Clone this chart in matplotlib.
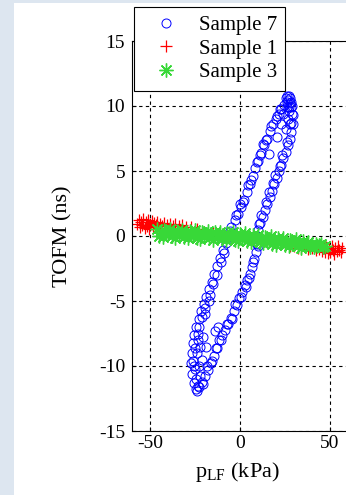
import matplotlib
matplotlib.use("Agg")
import matplotlib.pyplot as plt
from matplotlib.patches import Rectangle

# Sample 7: hysteresis loop (pressure kPa, TOFM ns)
s7_p = [
    -24.5, -25.5, -26.5, -27.0, -26.8, -26.2, -25.3, -24.2, -23.0, -21.6,
    -20.2, -18.7, -17.2, -15.6, -14.2, -12.6, -11.2, -9.6, -8.0, -6.4,
    -4.8, -3.0, -1.2, 0.6, 2.2, 3.8, 5.4, 7.0, 8.6, 10.2,
    11.8, 13.4, 15.0, 16.6, 18.2, 19.8, 21.4, 23.0, 24.6, 26.0,
    26.5, 27.5, 28.2, 27.0, 26.0, 28.8, 25.5, 27.8, 29.0, 27.2,
    26.0, 28.5, 27.0,
    29.3, 29.5, 28.6, 27.6, 26.5, 25.3, 24.0, 22.8, 21.6, 20.3,
    19.0, 17.7, 16.4, 15.1, 13.8, 12.5, 11.2, 10.2, 9.6, 9.2,
    8.9, 8.0, 6.8, 5.5, 4.0, 2.6, 1.2, -0.3, -1.8, -3.4,
    -5.0, -6.6, -8.2, -9.8, -11.4, -13.0, -14.6, -16.2, -17.8, -19.5,
    -21.2, -22.8, -24.0,
    -24.0, -23.0, -25.0, -22.0, -20.5, -18.7, -14.1, -12.5, -21.0, -23.5,
    -26.0, -19.5, -17.0, -22.8, -24.5, -23.5, -22.0,
    26.8, 28.0, 24.0, 22.5, 20.5, 25.5, 16.0,
    -25.8, -24.8, -23.6, -21.0, -19.2, -16.8, -14.8, -13.0, -10.8, -9.0,
    -5.6, -2.2, 0.0, 1.5, 4.6, 6.0, 9.4, 11.0, 12.8, 14.2,
    17.4, 20.6, 22.2,
    28.2, 26.0, 23.4, 22.0, 19.6, 18.2, 16.0, 14.4, 11.8, 10.5,
    9.8, 7.2, 4.8, 3.2, 0.3, -2.6, -4.3, -7.4, -10.6, -13.6,
    -15.4, -18.6, -20.6,
]
s7_t = [
    -11.8, -11.3, -10.6, -9.8, -9.0, -8.2, -7.6, -7.0, -6.4, -5.8,
    -5.2, -4.7, -4.1, -3.5, -2.9, -2.3, -1.7, -1.1, -0.5, 0.1,
    0.7, 1.2, 1.7, 2.2, 2.8, 3.4, 4.0, 4.6, 5.2, 5.8,
    6.4, 7.0, 7.5, 8.1, 8.6, 9.0, 9.4, 9.8, 10.1, 10.3,
    10.5, 10.2, 9.9, 9.6, 9.9, 9.4, 10.6, 10.6, 10.0, 10.8,
    10.8, 10.3, 9.9,
    9.3, 8.6, 8.0, 7.5, 7.0, 6.5, 6.0, 5.5, 5.0, 4.5,
    4.0, 3.5, 3.0, 2.5, 2.0, 1.5, 1.0, 0.5, 0.0, -0.6,
    -1.2, -1.8, -2.4, -2.9, -3.4, -3.8, -4.3, -4.8, -5.3, -5.8,
    -6.3, -6.8, -7.2, -7.6, -8.0, -8.6, -9.2, -9.8, -10.3, -10.8,
    -11.2, -11.6, -11.9,
    -9.0, -10.0, -10.2, -8.5, -7.8, -8.5, -7.3, -7.0, -9.5, -8.0,
    -9.6, -6.0, -5.0, -7.0, -11.0, -11.5, -10.8,
    9.0, 8.6, 9.4, 8.6, 7.6, 8.2, 6.3,
    -10.0, -8.6, -7.5, -6.2, -5.5, -4.5, -3.7, -3.0, -2.0, -1.3,
    0.4, 1.6, 2.5, 2.6, 3.9, 4.3, 5.7, 6.2, 7.1, 7.4,
    8.5, 9.2, 9.8,
    8.7, 7.2, 6.2, 5.4, 4.7, 4.1, 3.4, 2.6, 1.6, 0.9,
    -0.8, -2.0, -3.2, -3.9, -4.7, -5.2, -6.4, -6.8, -8.0, -8.6,
    -9.6, -10.0, -11.4,
]

# Sample 1: red band
s1_p = [
    -57.0, -56.3, -55.8, -55.0, -54.5, -53.8, -53.0, -52.4, -51.8, -51.0,
    -50.4, -49.8, -49.0, -48.3, -47.6, -46.8, -46.0, -45.2, -44.3, -43.2,
    -42.0, -40.5, -39.0, -37.5, -36.0, -34.0, -32.0, -30.0, -27.0, -24.0,
    -20.0, -15.0, -10.0, -5.0, 0.0, 5.0, 10.0, 15.0, 20.0, 25.0,
    28.0, 30.0, 32.0, 34.0, 36.0, 38.0, 40.0, 42.0, 44.0, 45.5,
    46.5, 47.3, 48.0, 48.8, 49.5, 50.2, 51.0, 51.7, 52.4, 53.0,
    53.8, 54.5, 55.2, 56.0, 56.6,
]
s1_t = [
    0.95, 1.25, 0.70, 1.10, 0.85, 1.30, 0.60, 1.05, 0.80, 1.20,
    0.55, 0.95, 1.15, 0.70, 1.00, 0.85, 1.10, 0.65, 0.95, 0.80,
    1.00, 0.85, 0.95, 0.80, 0.90, 0.75, 0.85, 0.70, 0.72, 0.55,
    0.30, 0.20, 0.10, 0.05, -0.05, -0.15, -0.20, -0.30, -0.35, -0.50,
    -0.75, -0.80, -0.90, -0.95, -0.85, -1.00, -0.95, -1.10, -1.00, -1.15,
    -0.90, -1.20, -0.85, -1.30, -1.00, -1.25, -0.75, -1.10, -1.35, -0.90,
    -1.15, -0.80, -1.05, -1.25, -0.95,
]

# Sample 3: green band
s3_p = [
    -46, -45, -44, -43, -42, -41, -40, -39, -38, -37,
    -36, -35, -34, -33, -32, -31, -30, -29, -28, -27,
    -26, -25, -24, -23, -22, -21, -20, -19, -18, -17,
    -16, -15, -14, -13, -12, -11, -10, -9, -8, -7,
    -6, -5, -4, -3, -2, -1, 0, 1, 2, 3,
    4, 5, 6, 7, 8, 9, 10, 11, 12, 13,
    14, 15, 16, 17, 18, 19, 20, 21, 22, 23,
    24, 25, 26, 27, 28, 29, 30, 31, 32, 33,
    34, 35, 36, 37, 38, 39, 40, 41, 42, 43,
    44, 45, 46, 47,
]
s3_t = [
    0.57, 0.02, 0.36, -0.07, 0.46, 0.16, 0.25, 0.52, -0.03, 0.31,
    -0.12, 0.42, 0.11, 0.20, 0.47, -0.08, 0.26, -0.17, 0.37, 0.06,
    0.15, 0.43, -0.13, 0.21, -0.22, 0.32, 0.01, 0.10, 0.38, -0.18,
    0.16, -0.27, 0.27, -0.04, 0.05, 0.33, -0.23, 0.11, -0.31, 0.22,
    -0.09, 0.00, 0.28, -0.28, 0.06, -0.36, 0.17, -0.15, -0.06, 0.20,
    -0.36, -0.03, -0.46, 0.06, -0.26, -0.17, 0.09, -0.47, -0.14, -0.57,
    -0.05, -0.36, -0.28, -0.02, -0.58, -0.25, -0.68, -0.16, -0.47, -0.39,
    -0.12, -0.69, -0.36, -0.79, -0.27, -0.58, -0.50, -0.23, -0.80, -0.47,
    -0.90, -0.38, -0.69, -0.61, -0.46, -0.81, -0.61, -0.88, -0.58, -0.77,
    -0.73, -0.65, -0.85, -0.78,
]

x_ticks = [-50, 0, 50]
y_ticks = [-15, -10, -5, 0, 5, 10, 15]

plt.rcParams["font.family"] = ["Liberation Serif", "DejaVu Serif"]
plt.rcParams["mathtext.default"] = "regular"
plt.rcParams["axes.unicode_minus"] = False

fig = plt.figure(figsize=(3.46, 4.95), dpi=100)
fig.patch.set_facecolor("#dde6f0")
fig.patches.append(Rectangle((14 / 346, 0), 1, 492 / 495, transform=fig.transFigure,
                             facecolor="white", edgecolor="none", zorder=-5))

ax = fig.add_axes([132 / 346, 64 / 495, 216 / 346, 390 / 495])

ax.plot(s7_p, s7_t, "o", mfc="none", mec="#0000ff", ms=6.5, mew=0.7, label="Sample 7")
ax.plot(s1_p, s1_t, "+", color="#ff0000", ms=8, mew=0.9, label="Sample 1")
ax.plot(s3_p, s3_t, ls="none", marker=(8, 2, 0), color="#38d838", ms=10, mew=1.0,
        label="Sample 3")

ax.set_xlim(-60, 60)
ax.set_ylim(-15, 15)
ax.set_xticks(x_ticks)
ax.set_yticks(y_ticks)
ax.grid(True, color="black", linestyle=(0, (3, 3)), linewidth=0.8)
ax.set_axisbelow(True)
ax.tick_params(direction="in", length=3, labelsize=14)
ax.tick_params(axis="y", pad=5)
ax.tick_params(axis="x", pad=3)
for sp in ax.spines.values():
    sp.set_linewidth(0.8)

ax.set_xlabel("p$_{LF}$ (kPa)", fontsize=16)
ax.set_ylabel("TOFM (ns)", fontsize=16)
ax.xaxis.set_label_coords((237 - 132) / 216, -(460 - 431) / 390)
ax.yaxis.set_label_coords(-(132 - 72) / 216, 0.5)

leg = fig.legend(loc="upper left", bbox_to_anchor=(134 / 346, 1 - 7 / 495),
                 fontsize=15, numpoints=1, handlelength=2.3, borderpad=0.4,
                 handletextpad=0.4, labelspacing=0.2, fancybox=False,
                 framealpha=1, edgecolor="black", borderaxespad=0)
leg.get_frame().set_linewidth(0.8)
leg.set_zorder(10)

fig.savefig("out.png", dpi=100, facecolor=fig.get_facecolor())
